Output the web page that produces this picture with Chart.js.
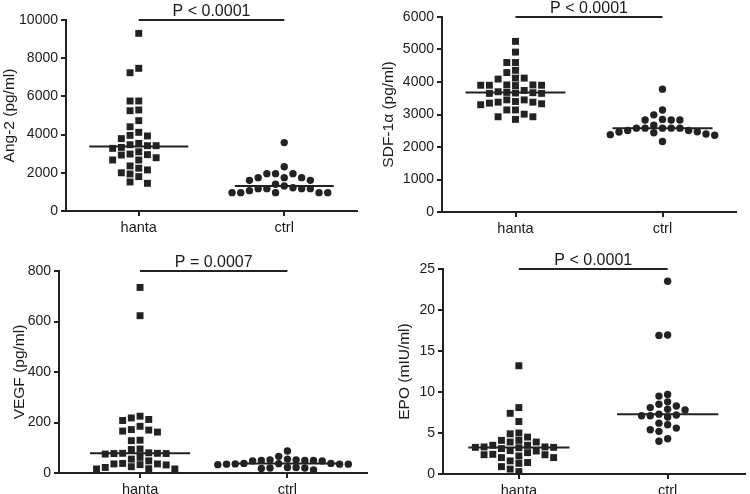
<!DOCTYPE html>
<html>
<head>
<meta charset="utf-8">
<script src="https://cdn.jsdelivr.net/npm/chart.js@4.4.1/dist/chart.umd.min.js"></script>
<style>
  body { margin: 0; background: #fff; width: 750px; height: 494px; position: relative; overflow: hidden; }
  canvas { position: absolute; }
</style>
</head>
<body>
<canvas id="c1" width="375" height="247" style="left:0;top:0"></canvas>
<canvas id="c2" width="375" height="247" style="left:375px;top:0"></canvas>
<canvas id="c3" width="375" height="247" style="left:0;top:247px"></canvas>
<canvas id="c4" width="375" height="247" style="left:375px;top:247px"></canvas>
<script>
const groups = ["hanta", "ctrl"];

// values
const ang2Hanta = [9300, 7470, 7240, 5760, 5760, 5290, 5250, 4730, 4410, 4120, 3930, 3960, 3790,
  3540, 3470, 3420, 3420, 3330, 3280, 3100, 2980, 2950, 2930, 2790, 2670, 2670, 2360, 2240,
  2150, 2000, 1940, 1800, 1520, 1450];
const ang2Ctrl = [3580, 2320, 1955, 1955, 1955, 1745, 1745, 1745, 1605, 1605, 1400, 1310,
  1220, 1170, 1170, 1170, 1170, 1065, 960, 960, 960, 960, 960];

const sdfHanta = [5250, 4920, 4600, 4600, 4360, 4290, 4120, 4090, 4120, 3910, 3900, 3900, 3910,
  3900, 3890, 3740, 3670, 3650, 3650, 3680, 3700, 3660, 3450, 3400, 3380, 3450, 3330, 3300,
  3350, 3380, 3140, 3140, 3010, 2930, 2930, 2850];
const sdfCtrl = [3780, 3140, 2990, 2830, 2830, 2830, 2850, 2670, 2580, 2580, 2580, 2580, 2580,
  2510, 2510, 2460, 2440, 2470, 2380, 2360, 2400, 2170];

const vegfHanta = [735, 623, 225, 212, 208, 218, 185, 166, 170, 172, 162, 130, 128, 95, 93, 80,
  77, 77, 78, 78, 75, 62, 55, 48, 38, 32, 25, 17, 16, 16, 22, 33, 36, 36];
const vegfCtrl = [87, 66, 55, 52, 50, 48, 50, 48, 50, 52, 38, 36, 35, 35, 38, 37, 33, 35, 22, 20,
  18, 22, 20, 12];

const epoHanta = [13.2, 8.1, 7.4, 6.4, 4.9, 5.0, 4.5, 4.1, 4.1, 3.9, 3.9, 3.5, 3.5, 3.25, 3.25,
  3.2, 3.1, 3.3, 3.3, 2.8, 2.85, 2.6, 2.35, 2.35, 2.0, 2.2, 2.0, 1.6, 1.3, 1.4, 0.9, 0.6, 0.3, 2.4];
const epoCtrl = [23.5, 16.95, 16.9, 9.5, 9.7, 8.5, 8.1, 7.9, 8.3, 8.8, 7.8, 7.3, 7.1, 7.1, 7.2,
  6.95, 6.0, 6.2, 5.4, 5.2, 5.6, 4.0, 4.3];

const pTexts = ["P < 0.0001", "P < 0.0001", "P = 0.0007", "P < 0.0001"];
const yTitles = ["Ang-2 (pg/ml)", "SDF-1\u03b1 (pg/ml)", "VEGF (pg/ml)", "EPO (mIU/ml)"];
const yMaxes = [10000, 6000, 800, 25];
const ySteps = [2000, 1000, 200, 5];

const series = [
  [ang2Hanta, ang2Ctrl],
  [sdfHanta, sdfCtrl],
  [vegfHanta, vegfCtrl],
  [epoHanta, epoCtrl]
];

// layout of each panel inside its canvas
const panels = [
  { id: "c1", axisW: 66, top: 20, xH: 36, right: 18, titlePad: 0, xMin: 0.5, xMax: 2.5 },
  { id: "c2", axisW: 67, top: 17, xH: 35, right: 14, titlePad: 4, xMin: 0.5, xMax: 2.5 },
  { id: "c3", axisW: 59, top: 24, xH: 21, right: 8, titlePad: 10, xMin: 0.45, xMax: 2.54 },
  { id: "c4", axisW: 68, top: 22, xH: 20, right: 5, titlePad: 20, xMin: 0.49, xMax: 2.52 }
];

const ink = "#222";
Chart.defaults.font.family = "'Liberation Sans', Arial, sans-serif";
Chart.defaults.color = "#1a1a1a";

function median(arr) {
  const s = [...arr].sort((a, b) => a - b);
  const m = s.length >> 1;
  return s.length % 2 ? s[m] : (s[m - 1] + s[m]) / 2;
}

const pLabel = {
  id: "pLabel",
  afterDraw(chart, args, opts) {
    const xs = chart.scales.x, ys = chart.scales.y;
    const ctx = chart.ctx;
    ctx.save();
    ctx.font = "16px 'Liberation Sans', Arial, sans-serif";
    ctx.fillStyle = "#1a1a1a";
    ctx.textAlign = "center";
    ctx.textBaseline = "alphabetic";
    const x = (xs.getPixelForValue(1) + xs.getPixelForValue(2)) / 2;
    ctx.fillText(opts.text, x, ys.getPixelForValue(ys.max) - 4);
    ctx.restore();
  }
};

// spread the dots sideways like a column scatter plot
function swarm(chart) {
  const xs = chart.scales.x, ys = chart.scales.y;
  chart.data.datasets.forEach((ds) => {
    if (ds.center === undefined) return;
    const cx = xs.getPixelForValue(ds.center);
    const placed = [];
    ds.data = ds.data.slice().sort((a, b) => b.y - a.y).map((pt) => {
      const py = ys.getPixelForValue(pt.y);
      let col = 0;
      for (let k = 0; k < 40; k++) {
        col = k === 0 ? 0 : (k % 2 ? -(k + 1) / 2 : k / 2);
        if (!placed.some((p) => p.col === col && Math.abs(p.py - py) < 7.2)) break;
      }
      placed.push({ col, py });
      return { x: xs.getValueForPixel(cx + col * 8.7), y: pt.y };
    });
  });
  chart.update("none");
}

panels.forEach((p, i) => {
  const [hanta, ctrl] = series[i];
  const medH = median(hanta), medC = median(ctrl);
  const datasets = [
    {
      data: hanta.map((v) => ({ x: 1, y: v })), center: 1,
      pointStyle: "rect", pointRadius: 4.9, backgroundColor: ink, borderWidth: 0
    },
    {
      data: ctrl.map((v) => ({ x: 2, y: v })), center: 2,
      pointStyle: "circle", pointRadius: 3.7, backgroundColor: ink, borderWidth: 0
    },
    {
      data: [{ x: 1 - 0.34, y: medH }, { x: 1 + 0.34, y: medH }],
      showLine: true, pointRadius: 0, borderColor: ink, borderWidth: 2
    },
    {
      data: [{ x: 2 - 0.34, y: medC }, { x: 2 + 0.34, y: medC }],
      showLine: true, pointRadius: 0, borderColor: ink, borderWidth: 2
    },
    {
      data: [{ x: 1, y: yMaxes[i] }, { x: 2, y: yMaxes[i] }],
      showLine: true, pointRadius: 0, borderColor: ink, borderWidth: 2, clip: false
    }
  ];

  const chart = new Chart(document.getElementById(p.id), {
    type: "scatter",
    data: { datasets },
    options: {
      responsive: false,
      animation: false,
      devicePixelRatio: 1,
      layout: { padding: { left: 0, top: p.top, right: p.right, bottom: 0 } },
      plugins: {
        legend: { display: false },
        tooltip: { enabled: false },
        pLabel: { text: pTexts[i] }
      },
      scales: {
        x: {
          type: "linear",
          min: p.xMin,
          max: p.xMax,
          afterBuildTicks: (s) => { s.ticks = [{ value: 1 }, { value: 2 }]; },
          afterFit: (s) => { s.height = p.xH; },
          ticks: {
            callback: (v) => groups[Math.round(v) - 1],
            font: { size: 14.5 },
            padding: 3,
            maxRotation: 0
          },
          grid: { drawOnChartArea: false, tickLength: 5, color: ink, lineWidth: 2 },
          border: { color: ink, width: 2 }
        },
        y: {
          min: 0,
          max: yMaxes[i],
          afterFit: (s) => { s.width = p.axisW; },
          ticks: {
            stepSize: ySteps[i],
            callback: (v) => String(v),
            font: { size: 14 },
            padding: 3
          },
          grid: { drawOnChartArea: false, tickLength: 5, color: ink, lineWidth: 2 },
          border: { color: ink, width: 2 },
          title: {
            display: true,
            text: yTitles[i],
            font: { size: 15.5 },
            padding: { top: p.titlePad, bottom: 0 }
          }
        }
      }
    },
    plugins: [pLabel]
  });
  swarm(chart);
});
</script>
</body>
</html>
